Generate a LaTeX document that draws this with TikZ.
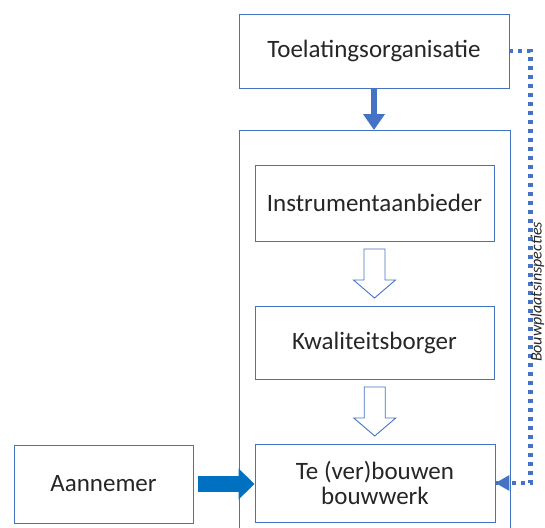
\documentclass[tikz,border=0pt]{standalone}
\usepackage{fontspec}
\setmainfont{Carlito}
\usetikzlibrary{arrows.meta,calc}
\definecolor{boxblue}{HTML}{4472C4}
\definecolor{darkblue}{HTML}{0070C0}
\definecolor{txt}{HTML}{262626}
\tikzset{
  box/.style={draw=boxblue, line width=0.9pt, fill=white, text=txt, font=\fontsize{25}{27}\selectfont, align=center, inner sep=0pt},
  hollowline/.style={draw=boxblue, line width=0.9pt, fill=white, line join=miter},
  dotline/.style={boxblue, line width=4.5pt, dash pattern=on 4pt off 5pt},
}
\newcommand{\hollowarrow}[1]{%
  \path[hollowline] ($(#1)+(-10.5,-24.5)$) -- ($(#1)+(10.5,-24.5)$) -- ($(#1)+(10.5,6.5)$) -- ($(#1)+(21,6.5)$) -- ($(#1)+(0,24.5)$) -- ($(#1)+(-21,6.5)$) -- ($(#1)+(-10.5,6.5)$) -- cycle;}
\begin{document}
\begin{tikzpicture}[x=1pt,y=-1pt]
\useasboundingbox (0,0) rectangle (545,527);
\fill[white] (0,0) rectangle (545,527);
% container
\draw[boxblue, line width=0.9pt] (239,540) -- (239,130) -- (510,130) -- (510,540);
\coordinate (cont) at (374,130);
\node[box, minimum width=270pt, minimum height=74pt] (toel) at (374,51) {Toelatingsorganisatie};
\node[box, minimum width=239pt, minimum height=76pt] (inst) at (374.5,203) {Instrumentaanbieder};
\node[box, minimum width=239pt, minimum height=73pt] (kwal) at (374.5,342.5) {Kwaliteitsborger};
\node[box, minimum width=240pt, minimum height=78pt] (te) at (375,483) {Te (ver)bouwen\\[-2pt]bouwwerk};
\node[box, minimum width=179pt, minimum height=78pt] (aan) at (103.5,484) {Aannemer};
% hollow arrows
\coordinate (h1) at ($(inst.south)!0.5!(kwal.north)$);
\coordinate (h2) at ($(kwal.south)!0.5!(te.north)$);
\hollowarrow{h1}
\hollowarrow{h2}
% solid arrows
\draw[boxblue, line width=6pt, -{Triangle[width=21pt,length=16pt]}] (toel.south) -- (cont);
\draw[darkblue, line width=16pt, -{Triangle[width=30pt,length=16pt]}, shorten <=5pt] (aan.east) -- (aan.east -| te.west);
% dotted inspection line
\coordinate (d1) at (530.5,51);
\coordinate (d2) at (530.5,483);
\draw[dotline] (toel.east) -- (d1) -- (d2) -- (te.east);
\fill[boxblue] (te.east) -- ++(14,-8) -- ++(0,16) -- cycle;
\node[rotate=90, anchor=base, font=\fontsize{16}{20}\selectfont\itshape, text=txt, inner sep=0pt] (lab) at (541.5,292) {Bouwplaatsinspecties};
\end{tikzpicture}
\end{document}
